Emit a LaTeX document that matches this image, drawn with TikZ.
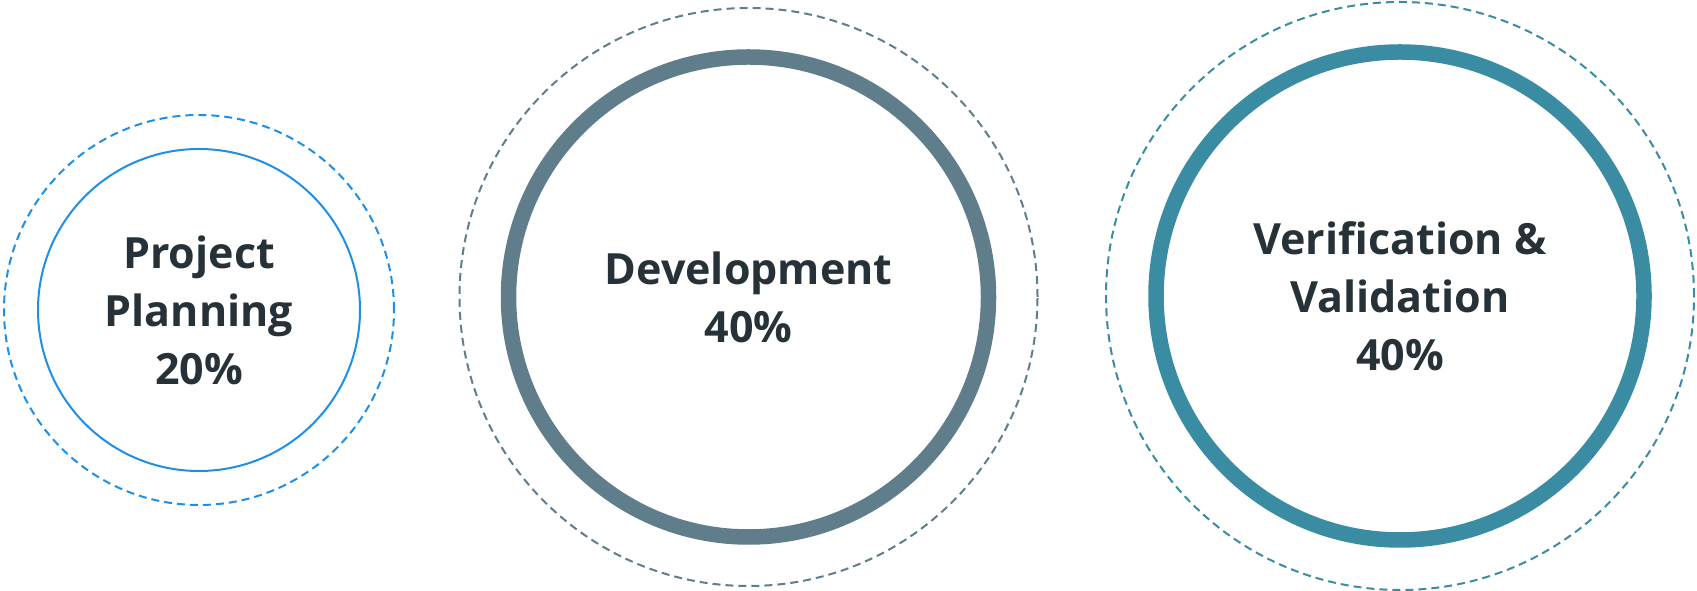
\documentclass[tikz,border=0pt]{standalone}
\usepackage{fontspec}
\setmainfont{Open Sans}
\definecolor{planblue}{HTML}{1E8FE6}
\definecolor{devgrey}{HTML}{607D8B}
\definecolor{vvteal}{HTML}{3A8CA3}
\definecolor{inkdark}{HTML}{263238}
\begin{document}
\begin{tikzpicture}[
    x=1pt, y=1pt,
    phase/.style={circle, inner sep=0pt, align=center, text=inkdark,
      font=\fontsize{43}{58}\selectfont\bfseries},
    halo/.style={circle, inner sep=0pt, line width=2pt, dash pattern=on 8pt off 5pt},
  ]
    \useasboundingbox (0,0) rectangle (1697,591);

    % === Project Planning ===
    \node[halo, draw=planblue, minimum size=390pt] (planhalo) at (199, 281) {};
    \node[phase, draw=planblue, line width=2pt, minimum size=322pt] (plan) at (199, 281) {Project\\Planning\\20\%};

    % === Development ===
    \node[halo, draw=devgrey, minimum size=578pt] (devhalo) at (748.5, 294) {};
    \node[phase, draw=devgrey, line width=15.5pt, minimum size=480pt] (dev) at (748.5, 294) {Development\\40\%};

    % === Verification & Validation ===
    \node[halo, draw=vvteal, minimum size=588pt] (vvhalo) at (1400, 295) {};
    \node[phase, draw=vvteal, line width=15.5pt, minimum size=488pt] (vv) at (1400, 295) {Verification \&\\Validation\\40\%};
  \end{tikzpicture}
\end{document}
